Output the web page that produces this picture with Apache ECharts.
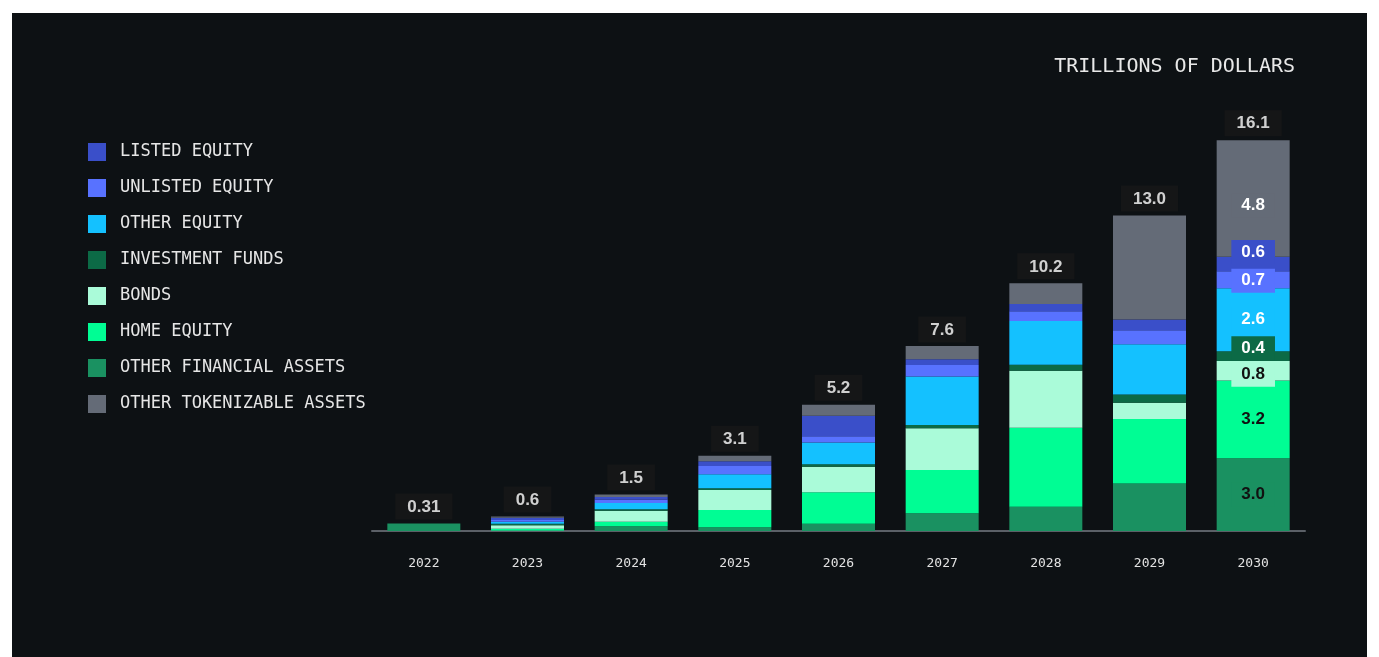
<!DOCTYPE html>
<html>
<head>
<meta charset="utf-8">
<script src="https://cdn.jsdelivr.net/npm/echarts@6/dist/echarts.min.js"></script>
<style>
  html, body { margin: 0; padding: 0; background: #ffffff; width: 1379px; height: 657px; overflow: hidden; }
  #chart { position: absolute; left: 12px; top: 13px; width: 1355px; height: 644px; background: #0d1114; }
</style>
</head>
<body>
<div id="chart"></div>
<script>
const years = ['2022', '2023', '2024', '2025', '2026', '2027', '2028', '2029', '2030'];
const totals = ['0.31', '0.6', '1.5', '3.1', '5.2', '7.6', '10.2', '13.0', '16.1'];
const totalValues = [0.31, 0.6, 1.5, 3.1, 5.2, 7.6, 10.2, 13.0, 16.1];

const otherFinancial  = [0.31, 0.02, 0.20, 0.15, 0.30, 0.73, 1.00, 1.96, 3.0];
const homeEquity      = [0,    0.07, 0.18, 0.72, 1.30, 1.78, 3.25, 2.65, 3.2];
const bonds           = [0,    0.15, 0.45, 0.82, 1.05, 1.72, 2.35, 0.67, 0.8];
const investmentFunds = [0,    0.06, 0.07, 0.07, 0.10, 0.14, 0.25, 0.34, 0.4];
const otherEquity     = [0,    0.08, 0.25, 0.58, 0.90, 1.99, 1.80, 2.07, 2.6];
const unlistedEquity  = [0,    0.07, 0.15, 0.34, 0.25, 0.48, 0.40, 0.58, 0.7];
const listedEquity    = [0,    0.10, 0.10, 0.19, 0.85, 0.23, 0.30, 0.44, 0.6];
const otherTokenizable= [0,    0.05, 0.10, 0.23, 0.45, 0.55, 0.85, 4.29, 4.8];

// label shown only on the 2030 bar
const lastLabels = ['3.0', '3.2', '0.8', '0.4', '2.6', '0.7', '0.6', '4.8'];

const seriesDefs = [
  { name: 'OTHER FINANCIAL ASSETS', data: otherFinancial, color: '#1a9161', text: '#111111', off: 0 },
  { name: 'HOME EQUITY', data: homeEquity, color: '#00fd94', text: '#111111', off: 0 },
  { name: 'BONDS', data: bonds, color: '#aafbd9', text: '#111111', off: 4 },
  { name: 'INVESTMENT FUNDS', data: investmentFunds, color: '#0c6a46', text: '#ffffff', off: -8 },
  { name: 'OTHER EQUITY', data: otherEquity, color: '#14c1ff', text: '#ffffff', off: 0 },
  { name: 'UNLISTED EQUITY', data: unlistedEquity, color: '#5872ff', text: '#ffffff', off: 1 },
  { name: 'LISTED EQUITY', data: listedEquity, color: '#3a4fc9', text: '#ffffff', off: -12 },
  { name: 'OTHER TOKENIZABLE ASSETS', data: otherTokenizable, color: '#646b77', text: '#ffffff', off: 7 }
];

const legendOrder = ['LISTED EQUITY', 'UNLISTED EQUITY', 'OTHER EQUITY', 'INVESTMENT FUNDS', 'BONDS', 'HOME EQUITY', 'OTHER FINANCIAL ASSETS', 'OTHER TOKENIZABLE ASSETS'];

const series = seriesDefs.map((s, si) => ({
  name: s.name,
  type: 'bar',
  stack: 'total',
  barWidth: 73,
  itemStyle: { color: s.color },
  emphasis: { disabled: true },
  data: s.data.map((v, i) => {
    if (i === years.length - 1) {
      return {
        value: v,
        label: {
          show: true,
          position: 'inside',
          offset: [0, s.off],
          formatter: lastLabels[si],
          color: s.text,
          fontFamily: 'Liberation Sans, Arial, sans-serif',
          fontWeight: 'bold',
          fontSize: 17,
          backgroundColor: s.color,
          padding: [4, 10, 3, 10]
        }
      };
    }
    return v;
  })
}));

series.push({
  name: 'totals',
  type: 'scatter',
  symbolSize: 0,
  silent: true,
  data: totalValues,
  label: {
    show: true,
    position: 'top',
    distance: 4,
    formatter: p => totals[p.dataIndex],
    color: '#ffffff',
    fontFamily: 'Liberation Sans, Arial, sans-serif',
    fontWeight: 'bold',
    fontSize: 17,
    backgroundColor: '#181818',
    padding: [5, 12, 4, 12]
  }
});

const chart = echarts.init(document.getElementById('chart'), null, { renderer: 'canvas' });
chart.setOption({
  backgroundColor: '#0d1114',
  animation: false,
  title: {
    text: 'TRILLIONS OF DOLLARS',
    right: 72,
    top: 44,
    padding: 0,
    textStyle: { color: '#e8e8e8', fontFamily: 'DejaVu Sans Mono, monospace', fontWeight: 'normal', fontSize: 20 }
  },
  legend: {
    data: legendOrder,
    orient: 'vertical',
    left: 76,
    top: 130,
    padding: 0,
    itemWidth: 18,
    itemHeight: 18,
    itemGap: 18,
    icon: 'rect',
    selectedMode: false,
    textStyle: { color: '#e6e6e6', fontFamily: 'DejaVu Sans Mono, monospace', fontSize: 17, padding: [0, 0, 0, 9] }
  },
  grid: { left: 360, right: 62, top: 81, bottom: 126 },
  xAxis: {
    type: 'category',
    data: years,
    axisLine: { lineStyle: { color: '#5b6067', width: 2 } },
    axisTick: { show: false },
    axisLabel: { color: '#e2e2e2', fontFamily: 'DejaVu Sans Mono, monospace', fontSize: 13, margin: 26 }
  },
  yAxis: {
    type: 'value',
    min: 0,
    max: 18,
    show: false,
    splitLine: { show: false }
  },
  series: series
});
</script>
</body>
</html>
